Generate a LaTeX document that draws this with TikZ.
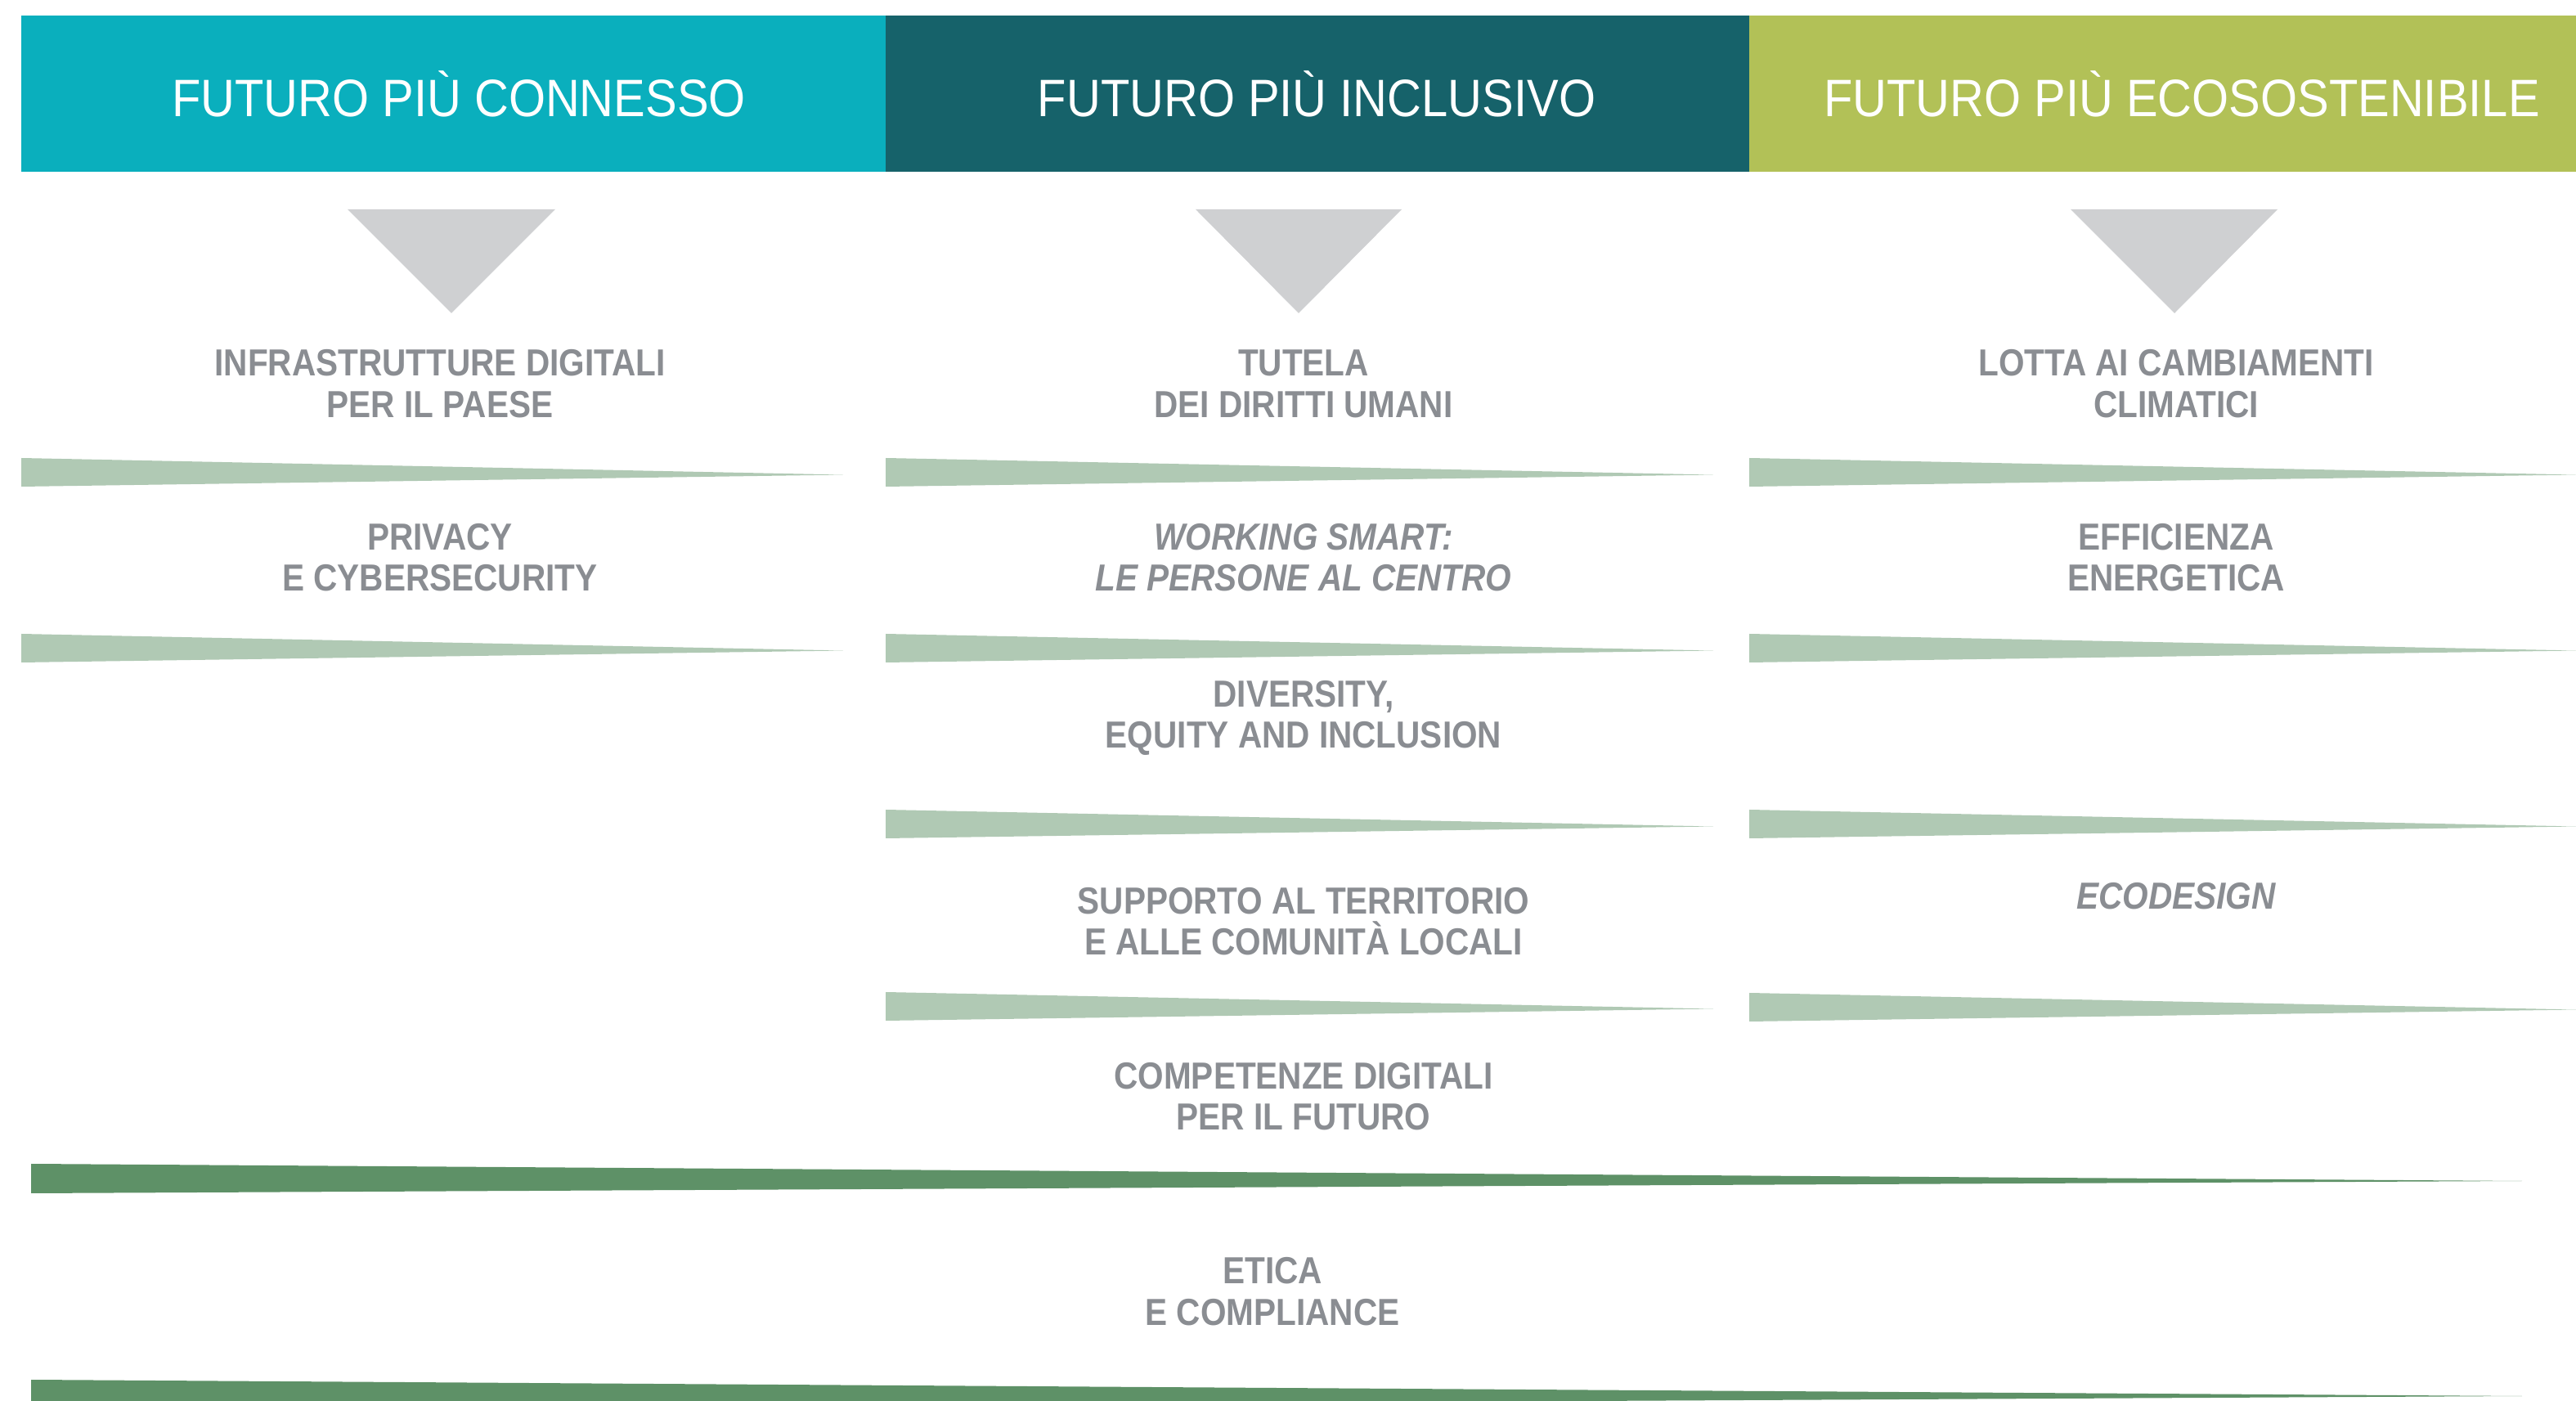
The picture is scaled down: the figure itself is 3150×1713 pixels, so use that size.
\documentclass[tikz,border=0pt]{standalone}
\usepackage{fontspec}
\newfontfamily\hdrfont[FakeStretch=0.9]{Liberation Sans}
\newfontfamily\bodyfont[FakeStretch=0.88]{Liberation Sans}
\definecolor{cyanH}{HTML}{0AAFBD}
\definecolor{tealH}{HTML}{16626A}
\definecolor{oliveH}{HTML}{B2C157}
\definecolor{lightW}{HTML}{B0C9B4}
\definecolor{darkW}{HTML}{5E9167}
\definecolor{grayT}{HTML}{8A8D92}
\definecolor{triG}{HTML}{CFD0D2}
\tikzset{
  hdrtext/.style={anchor=base, inner sep=0pt, text=white, font=\hdrfont\fontsize{18.3pt}{20pt}\selectfont},
  item/.style={anchor=base, inner sep=0pt, align=center, text=grayT, font=\bodyfont\bfseries\fontsize{13.1pt}{14.5pt}\selectfont},
  itemit/.style={item, font=\bodyfont\bfseries\itshape\fontsize{13.1pt}{14.5pt}\selectfont},
}
\newcommand{\lwedge}[3]{\fill[lightW] (#1,#3) -- (#2,#3+20.5) -- (#1,#3+35) -- cycle;}
\begin{document}
\begin{tikzpicture}[x=0.01cm,y=-0.01cm]
\useasboundingbox (0,0) rectangle (3150,1713);
\begin{scope}
\clip (0,0) rectangle (3150,1713);
% header bands
\fill[cyanH] (26,19) rectangle (1084,210);
\fill[tealH] (1083,19) rectangle (2140,210);
\fill[oliveH] (2139,19) rectangle (3150,210);
\node[hdrtext] (h1) at (561,143) {FUTURO PIÙ CONNESSO};
\node[hdrtext] (h2) at (1610,143) {FUTURO PIÙ INCLUSIVO};
\node[hdrtext] (h3) at (2668,143) {FUTURO PIÙ ECOSOSTENIBILE};
% triangles
\fill[triG] (425,256) -- (679,256) -- (552,383) -- cycle;
\fill[triG] (1462,256) -- (1714,256) -- (1588,383) -- cycle;
\fill[triG] (2532,256) -- (2785,256) -- (2659,383) -- cycle;
% light wedges
\lwedge{26}{1031}{560}
\lwedge{26}{1031}{775}
\lwedge{1083}{2095}{560}
\lwedge{1083}{2095}{775}
\lwedge{1083}{2095}{990}
\lwedge{1083}{2095}{1213}
\lwedge{2139}{3150}{560}
\lwedge{2139}{3150}{775}
\lwedge{2139}{3150}{990}
\lwedge{2139}{3150}{1214}
% dark wedges
\fill[darkW] (38,1423) -- (3084,1444) -- (38,1459) -- cycle;
\fill[darkW] (38,1687) -- (3084,1707) -- (38,1723) -- cycle;
\end{scope}
% items column 1 (anchor = baseline of last line)
\node[item] (c1a) at (538,511) {INFRASTRUTTURE DIGITALI\\PER IL PAESE};
\node[item] (c1b) at (538,723) {PRIVACY\\E CYBERSECURITY};
% column 2
\node[item] (c2a) at (1594,511) {TUTELA\\DEI DIRITTI UMANI};
\node[itemit] (c2b) at (1594,723) {WORKING SMART:\\LE PERSONE AL CENTRO};
\node[item] (c2c) at (1594,915) {DIVERSITY,\\EQUITY AND INCLUSION};
\node[item] (c2d) at (1594,1168) {SUPPORTO AL TERRITORIO\\E ALLE COMUNITÀ LOCALI};
\node[item] (c2e) at (1594,1382) {COMPETENZE DIGITALI\\PER IL FUTURO};
% column 3
\node[item] (c3a) at (2661,511) {LOTTA AI CAMBIAMENTI\\CLIMATICI};
\node[item] (c3b) at (2661,723) {EFFICIENZA\\ENERGETICA};
\node[itemit] (c3c) at (2661,1112) {ECODESIGN};
% bottom
\node[item] (etica) at (1556,1620) {ETICA\\E COMPLIANCE};
\end{tikzpicture}
\end{document}
